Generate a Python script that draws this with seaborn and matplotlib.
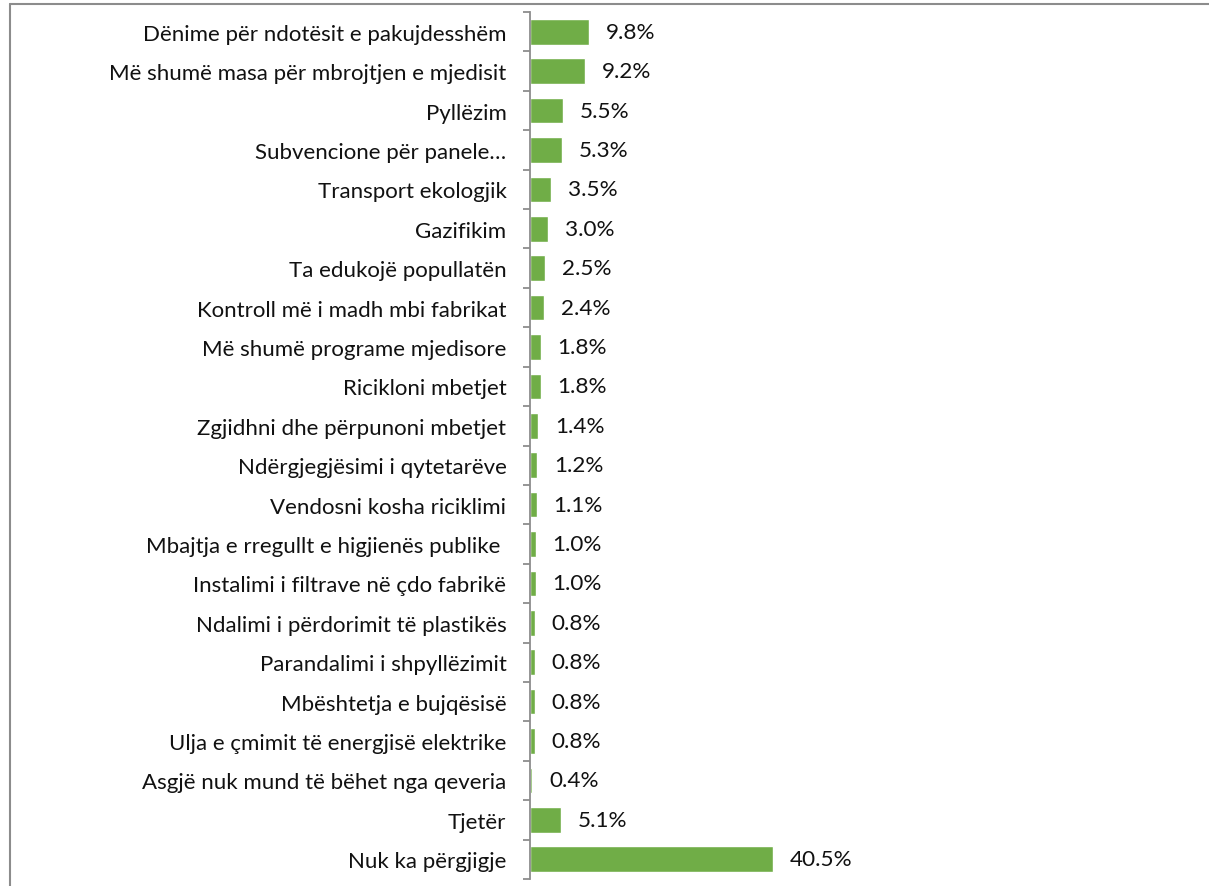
import matplotlib
matplotlib.use("Agg")
import matplotlib.pyplot as plt
import seaborn as sns
import pandas as pd
import numpy as np
from matplotlib.lines import Line2D

categories = [
    "Dënime për ndotësit e pakujdesshëm",
    "Më shumë masa për mbrojtjen e mjedisit",
    "Pyllëzim",
    "Subvencione për panele…",
    "Transport ekologjik",
    "Gazifikim",
    "Ta edukojë popullatën",
    "Kontroll më i madh mbi fabrikat",
    "Më shumë programe mjedisore",
    "Ricikloni mbetjet",
    "Zgjidhni dhe përpunoni mbetjet",
    "Ndërgjegjësimi i qytetarëve",
    "Vendosni kosha riciklimi",
    "Mbajtja e rregullt e higjienës publike ",
    "Instalimi i filtrave në çdo fabrikë",
    "Ndalimi i përdorimit të plastikës",
    "Parandalimi i shpyllëzimit",
    "Mbështetja e bujqësisë",
    "Ulja e çmimit të energjisë elektrike",
    "Asgjë nuk mund të bëhet nga qeveria",
    "Tjetër",
    "Nuk ka përgjigje",
]
values = [9.8, 9.2, 5.5, 5.3, 3.5, 3.0, 2.5, 2.4, 1.8, 1.8, 1.4, 1.2,
          1.1, 1.0, 1.0, 0.8, 0.8, 0.8, 0.8, 0.4, 5.1, 40.5]

df = pd.DataFrame({"cat": categories, "val": values})

sns.set_style("white")
plt.rcParams['font.family'] = ['Lato', 'DejaVu Sans']

W, H = 1209, 887
fig = plt.figure(figsize=(W / 100, H / 100), dpi=100)
ax = fig.add_axes([530 / W, 1 - 880 / H, (W - 530) / W, (880 - 13) / H])

sns.barplot(data=df, x="val", y="cat", orient="h", color="#70AD47",
            saturation=1, width=0.65, ax=ax)

ax.set_xlim(0, (W - 530) / 6.0)
ax.set_ylim(len(categories) - 0.5, -0.5)
ax.set_xlabel("")
ax.set_ylabel("")
ax.set_xticks([])

for s in ["top", "right", "bottom"]:
    ax.spines[s].set_visible(False)
ax.spines["left"].set_color("#8c8c8c")
ax.spines["left"].set_linewidth(1.3)

ax.tick_params(axis="y", which="major", length=0, pad=17, labelsize=16,
               labelcolor="#111111")
ax.set_yticks(np.arange(-0.5, len(categories), 1), minor=True)
ax.tick_params(axis="y", which="minor", left=True, length=5, width=1.3,
               color="#8c8c8c", direction="out")

labels = [f"{v:.1f}%" for v in values]
ax.bar_label(ax.containers[0], labels=labels, padding=12, fontsize=16.2,
             color="#111111")

# chart area border (cropped)
fig.add_artist(Line2D([10 / W, 1], [1 - 5 / H, 1 - 5 / H], color="#8c8c8c",
                      lw=1.5, transform=fig.transFigure))
fig.add_artist(Line2D([10 / W, 10 / W], [0, 1 - 5 / H], color="#8c8c8c",
                      lw=1.5, transform=fig.transFigure))

fig.savefig("out.png", dpi=100, facecolor="white")
